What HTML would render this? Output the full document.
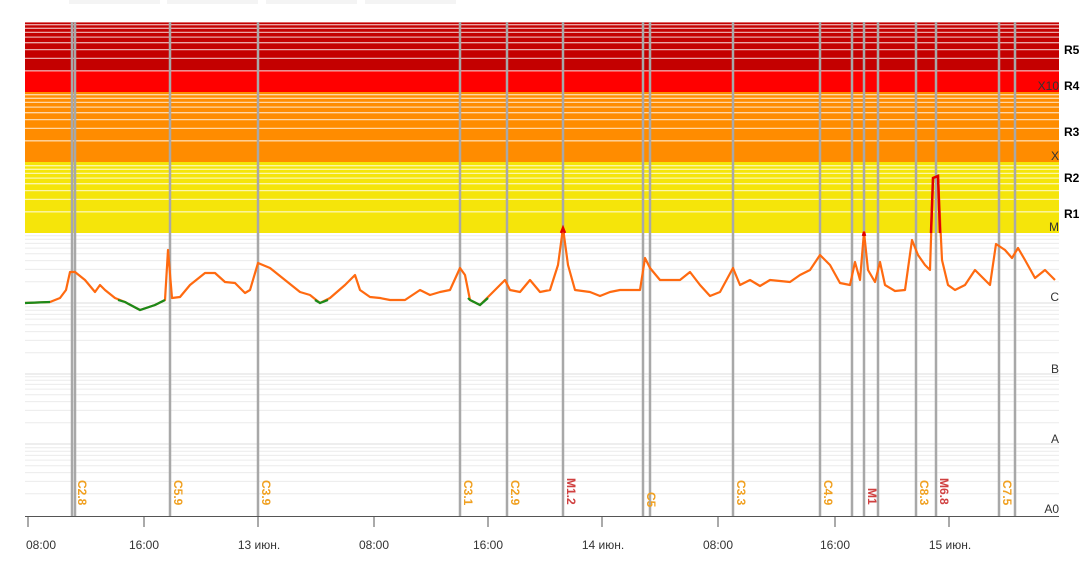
<!DOCTYPE html>
<html><head><meta charset="utf-8"><style>
body{margin:0;background:#fff;width:1092px;height:559px;overflow:hidden;font-family:"Liberation Sans","DejaVu Sans",sans-serif}
</style></head><body>
<svg width="1092" height="559" xmlns="http://www.w3.org/2000/svg" font-family="Liberation Sans, DejaVu Sans, sans-serif">
<g fill="#f4f4f4"><rect x="69" y="0" width="91" height="4"/><rect x="167" y="0" width="91" height="4"/><rect x="266" y="0" width="91" height="4"/><rect x="365" y="0" width="91" height="4"/></g>
<rect x="25" y="22" width="1034" height="49" fill="#c40000"/>
<rect x="25" y="71" width="1034" height="21" fill="#ff0000"/>
<rect x="25" y="92" width="1034" height="70" fill="#ff8c00"/>
<rect x="25" y="162" width="1034" height="71" fill="#f5e50a"/>
<g stroke="#ffffff" stroke-opacity="0.65" stroke-width="1.3">
<path d="M25 22H1059M25 70.8H1059M25 58.4H1059M25 49.6H1059M25 42.7H1059M25 37.1H1059M25 32.4H1059M25 28.3H1059M25 24.7H1059
M25 140.8H1059M25 128.4H1059M25 119.6H1059M25 112.7H1059M25 107.1H1059M25 102.4H1059M25 98.3H1059M25 94.7H1059
M25 211.8H1059M25 199.4H1059M25 190.6H1059M25 183.7H1059M25 178.1H1059M25 173.4H1059M25 169.3H1059M25 165.7H1059"/>
</g>
<g stroke="#ececec" stroke-width="1">
<path d="M25 281.8H1059M25 269.4H1059M25 260.6H1059M25 253.7H1059M25 248.1H1059M25 243.4H1059M25 239.3H1059M25 235.7H1059
M25 352.8H1059M25 340.4H1059M25 331.6H1059M25 324.7H1059M25 319.1H1059M25 314.4H1059M25 310.3H1059M25 306.7H1059
M25 422.8H1059M25 410.4H1059M25 401.6H1059M25 394.7H1059M25 389.1H1059M25 384.4H1059M25 380.3H1059M25 376.7H1059
M25 493.8H1059M25 481.4H1059M25 472.6H1059M25 465.7H1059M25 460.1H1059M25 455.4H1059M25 451.3H1059M25 447.7H1059"/>
</g>
<g stroke="#dedede" stroke-width="1"><path d="M25 303H1059M25 374H1059M25 444H1059"/></g>
<g stroke="#a8a8a8" stroke-width="2.5">
<path d="M72 22V516M75 22V516M170 22V516M258 22V516M460 22V516M507 22V516M563 22V516M643 22V516M650 22V516M733 22V516M820 22V516M852 22V516M864 22V516M878 22V516M916 22V516M936 22V516M999 22V516M1015 22V516"/>
</g>
<polyline fill="none" stroke="#ff6a10" stroke-width="2.2" stroke-linejoin="round" points="25,303 50,302 60,298 66,290 70,272 75,272 85,280 95,292 100,285 105,290 115,298 125,302 140,310 155,305 165,300 168,250 172,298 180,297 190,285 205,273 215,273 225,282 235,283 245,293 250,290 258,263 270,268 285,280 300,292 310,295 320,303 330,298 345,285 355,275 360,290 370,297 380,298 390,300 405,300 420,290 430,295 440,292 450,290 460,268 465,275 470,300 480,305 490,295 500,285 505,280 510,290 520,292 530,280 540,292 550,290 558,265 563,228 568,265 575,290 590,292 600,296 610,292 620,290 630,290 640,290 645,258 650,268 660,280 680,280 690,272 700,285 710,296 720,292 733,268 740,285 750,280 760,286 770,280 790,282 800,275 810,270 820,255 830,265 840,283 850,285 855,262 860,280 864,232 868,270 875,282 880,262 885,285 895,291 905,290 912,240 918,255 925,265 930,270 933,178 938,176 942,260 948,285 955,290 965,285 975,270 990,285 996,244 1005,250 1012,258 1018,248 1025,260 1035,278 1045,270 1055,280"/>
<g fill="none" stroke="#1a8a1a" stroke-width="2.2"><polyline points="25,303 50,302"/><polyline points="118,300 125,302 140,310 155,305 165,300"/><polyline points="315,300 320,303 328,300"/><polyline points="468,298 470,300 480,305 488,298"/></g>
<g fill="none" stroke="#e00000" stroke-width="2.5"><polyline points="561,233 563,228 565,233"/><polyline points="931,233 933,178 938,176 940,233"/><polyline points="863,236 864,232 865,236"/></g>
<g font-size="12" font-weight="bold" fill="#f0a020">
<text transform="translate(78,480) rotate(90)">C2.8</text>
<text transform="translate(174,480) rotate(90)">C5.9</text>
<text transform="translate(262,480) rotate(90)">C3.9</text>
<text transform="translate(464,480) rotate(90)">C3.1</text>
<text transform="translate(511,480) rotate(90)">C2.9</text>
<text transform="translate(567,478) rotate(90)" fill="#d04040">M1.2</text>
<text transform="translate(647,492) rotate(90)">C5</text>
<text transform="translate(737,480) rotate(90)">C3.3</text>
<text transform="translate(824,480) rotate(90)">C4.9</text>
<text transform="translate(868,488) rotate(90)" fill="#d04040">M1</text>
<text transform="translate(920,480) rotate(90)">C8.3</text>
<text transform="translate(940,478) rotate(90)" fill="#d04040">M6.8</text>
<text transform="translate(1003,480) rotate(90)">C7.5</text>
</g>
<g font-size="12" fill="#333" text-anchor="end">
<text x="1059" y="90">X10</text><text x="1059" y="160">X</text><text x="1059" y="231">M</text><text x="1059" y="301">C</text><text x="1059" y="373">B</text><text x="1059" y="443">A</text><text x="1059" y="513">A0</text>
</g>
<g font-size="12" font-weight="bold" fill="#000">
<text x="1064" y="54">R5</text><text x="1064" y="90">R4</text><text x="1064" y="136">R3</text><text x="1064" y="182">R2</text><text x="1064" y="218">R1</text>
</g>
<line x1="25" y1="516.5" x2="1059" y2="516.5" stroke="#555" stroke-width="1"/>
<g stroke="#555"><path d="M28 516V527M144 516V527M258 516V527M374 516V527M488 516V527M602 516V527M718 516V527M835 516V527M949 516V527"/></g>
<g font-size="12" fill="#333" text-anchor="middle">
<text x="41" y="549">08:00</text><text x="144" y="549">16:00</text><text x="259" y="549">13 июн.</text><text x="374" y="549">08:00</text><text x="488" y="549">16:00</text><text x="603" y="549">14 июн.</text><text x="718" y="549">08:00</text><text x="835" y="549">16:00</text><text x="950" y="549">15 июн.</text>
</g>
</svg>
</body></html>
